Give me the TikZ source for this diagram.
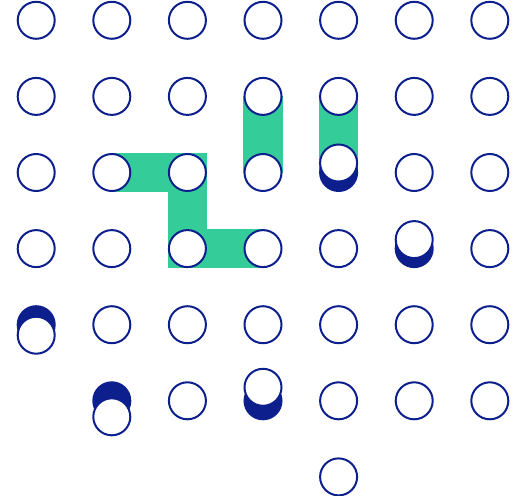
\documentclass[tikz,border=0pt]{standalone}
\usetikzlibrary{backgrounds}

\definecolor{dotblue}{RGB}{12,31,140}
\definecolor{bandgreen}{RGB}{52,204,153}

\begin{document}
\begin{tikzpicture}[%
    x=75.6pt,
    y=-76.1pt,
    dot/.style={circle, draw=dotblue, line width=2pt, fill=white,
        minimum size=37pt, inner sep=0pt},
    darkdot/.style={dot, fill=dotblue},
    band/.style={bandgreen, line width=39.5pt, line join=miter}
]
\useasboundingbox (-36.2pt,20.3pt) rectangle (476.8pt,-474.7pt);

% plain dots, row by row
\foreach \r/\cols in {0/{0,...,6}, 1/{0,...,6}, 2/{0,1,2,3,5,6},
        3/{0,1,2,3,4,6}, 4/{1,...,6}, 5/{2,4,5,6}, 6/{4}}
    \foreach \c in \cols
        \node[dot] (d-\c-\r) at (\c,\r) {};

% dark dots with a shifted white dot on top
\foreach \c/\r/\dy in {4/2/9.5, 5/3/9, 0/4/-10.5, 1/5/-16, 3/5/13.5} {
    \node[darkdot] (d-\c-\r) at (\c,\r) {};
    \node[dot, yshift=\dy pt] (w-\c-\r) at (\c,\r) {};
}

% green bands behind the dots
\begin{pgfonlayer}{background}
    \draw[band] (d-3-1.center) -- (d-3-2.center);
    \draw[band] (d-4-1.center) -- (d-4-2.center);
    \draw[band] (d-1-2.center) -- (d-2-2.center) -- (d-2-3.center)
        -- (d-3-3.center);
\end{pgfonlayer}

\end{tikzpicture}
\end{document}
